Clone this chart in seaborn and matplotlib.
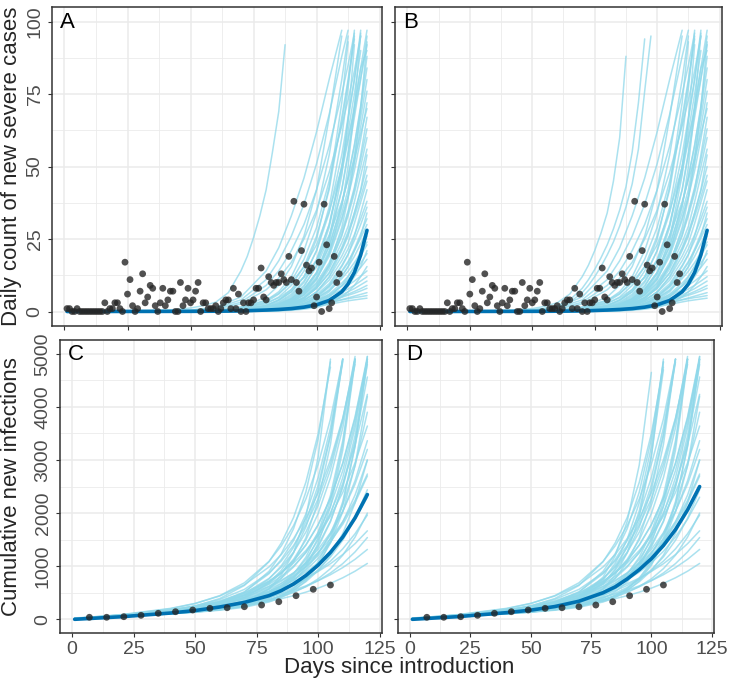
import numpy as np
import pandas as pd
import matplotlib
matplotlib.use("Agg")
import matplotlib.pyplot as plt
import seaborn as sns
from matplotlib.ticker import MultipleLocator

nan = np.nan

# ---------------- observed data ----------------
# daily count of new severe cases (panels A and B)
obs_days = list(range(1, 110))
obs_daily = [1, 1, 0, 0, 1, 0, 0, 0, 0, 0,
             0, 0, 0, 0, 0, 3, 0, 1, 1, 3,
             3, 1, 0, 17, 6, 11, 2, 0, 1, 7,
             13, 3, 5, 9, 8, 2, 0, 3, 8, 2,
             4, 7, 7, 0, 0, 10, 2, 4, 8, 3,
             4, 7, 10, 0, 3, 3, 1, 1, 1, 2,
             0, 1, 3, 4, 4, 1, 8, 1, 6, 0,
             3, 0, 3, 3, 4, 8, 8, 15, 5, 4,
             12, 10, 9, 10, 10, 13, 11, 10, 19, 11,
             38, 10, 7, 21, 37, 16, 14, 15, 2, 5,
             17, 0, 37, 23, 1, 3, 19, 10, 13]

# weekly cumulative new infections (panels C and D)
cum_days = [7, 14, 21, 28, 35, 42, 49, 56, 63, 70, 77, 84, 91, 98, 105]
cum_obs = [38, 38, 49, 75, 113, 143, 175, 207, 218, 237, 269, 331, 444, 565, 646]

# ---------------- simulated trajectories, top row ----------------
top_days = [1, 50, 60, 70, 80, 85, 90, 95, 100, 105, 110, 112.5, 115, 117.5, 120]

top_common = [
    [0, 0.1, 0.4, 1.4, 5, 9, 15.5, 26, 42, 67, 95, nan, nan, nan, nan],
    [0, 0.1, 0.3, 1.1, 3.8, 6.8, 12, 21, 34, 54, 80, 95, nan, nan, nan],
    [0, 0.05, 0.2, 0.8, 2.7, 5, 9, 15.5, 26, 42, 67, 80, 95, nan, nan],
    [0, 0.03, 0.15, 0.6, 2.2, 4, 6.8, 12, 21, 34, 54, 67, 80, 95, nan],
    [0, 0.02, 0.1, 0.4, 1.4, 2.7, 5, 9, 15.5, 26, 42, 54, 67, 80, 95],
    [0, 0, 0.05, 0.2, 0.8, 1.6, 3.0, 5.8, 11, 20, 36, 50, 70, 96, nan],
    [0, 0, 0.03, 0.15, 0.6, 1.2, 2.3, 4.4, 8.5, 16, 29, 39, 52, 70, 93],
    [0, 0.03, 0.15, 0.6, 2.0, 3.8, 6.8, 12, 21, 36, 60, 77, 97, nan, nan],
    [0, 0.02, 0.08, 0.35, 1.2, 2.3, 4.2, 7.6, 13.5, 24, 42, 55, 70, 84, 90],
    [0, 0, 0.04, 0.2, 0.9, 1.8, 3.5, 7, 13, 25, 47, 66, 92, nan, nan],
    [0, 0.02, 0.1, 0.45, 1.6, 3, 5.5, 10, 17.5, 30, 50, 62, 75, 90, nan],
    [0, 0.5, 1.5, 5, 14, 22, 33, 46, 62, 80, 97, nan, nan, nan, nan],
    [0, 0.4, 1.2, 4, 11, 17.5, 26, 37, 51, 68, 88, 97, nan, nan, nan],
    [0, 0.3, 1.0, 3.2, 9, 14, 21, 30, 42, 57, 75, 85, 96, nan, nan],
    [0, 0.25, 0.8, 2.6, 7.5, 11.5, 17, 25, 35, 48, 64, 73, 83, 95, nan],
    [0, 0, 0.1, 0.5, 2, 4, 7.5, 14, 25, 43, 72, 93, nan, nan, nan],
    [0, 0, 0.05, 0.3, 1.2, 2.4, 4.5, 8.5, 16, 29, 50, 66, 80, 97, nan],
    [0, 0.02, 0.1, 0.5, 1.8, 3.3, 6, 10.5, 18, 30, 48, 59, 71, 84, 97],
    [0, 0.05, 0.25, 1.0, 3.3, 6, 10.5, 18, 29, 45, 65, 79, 94, nan, nan],
    [0, 0.02, 0.08, 0.3, 1.1, 2.2, 3.8, 6.8, 12, 21, 34, 42, 54, 67, 80],
    [0, 0.02, 0.05, 0.2, 0.8, 1.4, 2.7, 5, 9, 15.5, 26, 34, 42, 54, 67],
    [0, 0.01, 0.04, 0.15, 0.6, 1.1, 2.2, 3.8, 6.8, 12, 21, 26, 34, 42, 54],
    [0, 0.01, 0.03, 0.1, 0.4, 0.8, 1.4, 2.7, 5, 9, 15.5, 19.5, 26, 34, 42],
    [0, 0, 0.02, 0.08, 0.3, 0.6, 1.1, 2.2, 3.8, 6.8, 12, 15.5, 21, 26, 34],
    [0, 0, 0.01, 0.05, 0.2, 0.4, 0.8, 1.4, 2.7, 5, 9, 12, 15.5, 21, 26],
    [0, 0, 0.01, 0.04, 0.15, 0.3, 0.6, 1.1, 2.2, 3.8, 6.8, 9, 12, 15.5, 21],
    [0, 0, 0, 0.03, 0.1, 0.2, 0.4, 0.8, 1.4, 2.7, 5, 6.8, 9, 12, 15.5],
    [0, 0, 0.05, 0.2, 0.4, 0.55, 0.8, 1.2, 1.8, 2.5, 3.3, 3.7, 4.0, 4.3, 4.6],
    [0, 0, 0.05, 0.2, 0.5, 0.7, 1.0, 1.5, 2.2, 3.0, 4.1, 4.7, 5.3, 5.9, 6.5],
    [0, 0, 0.05, 0.2, 0.5, 0.8, 1.2, 1.8, 2.6, 3.7, 5.2, 6.0, 6.9, 7.9, 9],
    [0, 0, 0.05, 0.2, 0.5, 0.8, 1.3, 2.0, 3.0, 4.5, 6.5, 7.8, 9.0, 10.5, 12],
    [0, 0, 0.05, 0.2, 0.5, 0.9, 1.5, 2.4, 3.8, 5.8, 8.8, 10.7, 12.8, 15.2, 18],
    [0, 0, 0.05, 0.2, 0.6, 1.0, 1.7, 2.8, 4.5, 7.2, 11.3, 13.9, 16.9, 20.2, 24],
    [0, 0, 0.05, 0.25, 0.7, 1.2, 2.0, 3.3, 5.4, 8.8, 14, 17.3, 21, 25.3, 30],
    [0, 0, 0.06, 0.3, 0.8, 1.4, 2.4, 4.0, 6.6, 10.8, 17.5, 21.6, 26.5, 32, 38],
    [0, 0, 0.07, 0.3, 0.9, 1.6, 2.8, 4.7, 8.0, 13.2, 21.5, 26.7, 32.7, 39.5, 47],
    [0, 0, 0.08, 0.35, 1.0, 1.8, 3.2, 5.6, 9.6, 16, 26.5, 33, 40.8, 50, 60],
    [0, 0.02, 0.1, 0.4, 1.2, 2.1, 3.7, 6.5, 11.3, 19, 31.5, 39.5, 48.6, 59.5, 72],
    [0, 0.02, 0.1, 0.45, 1.4, 2.4, 4.3, 7.6, 13.2, 22.5, 37, 46.5, 57.5, 71, 88],
    [0, 0, 0.06, 0.24, 0.48, 0.66, 0.96, 1.43, 2.1, 3.0, 4.0, 4.4, 4.8, 5.1, 5.5],
    [0, 0, 0.06, 0.25, 0.55, 0.8, 1.15, 1.7, 2.5, 3.5, 4.9, 5.6, 6.3, 7.1, 8],
    [0, 0, 0.05, 0.2, 0.45, 0.7, 1.1, 1.75, 2.6, 3.9, 5.7, 6.8, 7.9, 9.2, 10.5],
    [0, 0, 0.05, 0.2, 0.55, 0.9, 1.5, 2.3, 3.5, 5.3, 7.6, 9.1, 10.5, 12.2, 14],
    [0, 0, 0.03, 0.12, 0.33, 0.6, 1.06, 1.86, 3.2, 5.3, 8.8, 11, 13.6, 16.7, 20],
    [0, 0, 0.02, 0.09, 0.32, 0.63, 1.1, 1.95, 3.45, 6.0, 9.8, 12.1, 15.5, 19.3, 23],
    [0, 0, 0.04, 0.16, 0.47, 0.84, 1.5, 2.6, 4.5, 7.5, 12.4, 15.4, 19, 23.3, 28],
    [0, 0, 0.03, 0.12, 0.44, 0.88, 1.5, 2.7, 4.8, 8.4, 13.6, 16.8, 21.6, 26.8, 32],
    [0, 0, 0.05, 0.2, 0.6, 1.1, 1.9, 3.35, 5.8, 9.6, 15.9, 19.8, 24.5, 30, 36],
    [0, 0.01, 0.045, 0.17, 0.62, 1.24, 2.1, 3.8, 6.75, 11.8, 19.1, 23.6, 30.4, 37.7, 45],
    [0, 0, 0.065, 0.29, 0.84, 1.5, 2.65, 4.65, 8, 13.4, 22.1, 27.5, 34, 41.7, 50],
    [0, 0.014, 0.056, 0.21, 0.77, 1.54, 2.66, 4.76, 8.4, 14.7, 23.8, 29.4, 37.8, 46.9, 56],
    [0, 0, 0.08, 0.37, 1.05, 1.9, 3.3, 5.9, 10, 16.8, 27.8, 34.7, 42.8, 52.5, 63],
    [0, 0.05, 0.28, 1.2, 2.9, 4.7, 7.6, 11.7, 17.5, 26.3, 37.8, 45.5, 52.5, 61.3, 70],
    [0, 0.02, 0.076, 0.29, 1.05, 2.1, 3.6, 6.5, 11.4, 20, 32.3, 39.9, 51.3, 63.7, 76],
    [0, 0, 0.11, 0.49, 1.4, 2.5, 4.45, 7.8, 13.4, 22.4, 37.1, 46.2, 57.1, 70, 84],
    [0, 0.06, 0.37, 1.56, 3.9, 6.2, 9.9, 15.4, 23, 34.5, 49.7, 59.8, 69, 80.5, 92],
]

# the steep early trajectories, on a finer day grid
early_days = [1, 40, 50, 55, 60, 65, 70, 72.5, 75, 77.5, 80, 82.5, 85, 87.5,
              90, 92.5, 95, 97.5]
early_A = [
    [0, 0.4, 1.2, 2.0, 3.2, 6.5, 14, 19, 25.5, 33, 42, 55, 69, 92,
     nan, nan, nan, nan],
]
early_B = [
    [0, 0.3, 1.0, 1.8, 3, 6, 12, 16, 21, 27, 34, 45, 60, 88,
     nan, nan, nan, nan],
    [0, 0.2, 0.6, 1.1, 2, 4, 8, 11, 14.5, 18.5, 23, 28.5, 35, 43,
     55, 72, 94, nan],
    [0, 0.15, 0.5, 0.9, 1.6, 3.2, 6.5, 9, 12, 15.5, 19.5, 24, 29.5, 36,
     44, 56, 76, 95],
]
top_mean = [0, 0.05, 0.1, 0.2, 0.5, 0.7, 1.0, 1.5, 2.3, 3.8, 6.8, 9.5, 13.5, 19.5, 28]

# ---------------- simulated trajectories, bottom row ----------------
bot_days = [1, 20, 40, 50, 60, 70, 80, 85, 90, 95, 100, 105, 110, 115, 120]

bot_common = [
    [16, 58, 116, 154, 201, 262, 340, 389, 445, 511, 587, 677, 782, 906, 1052],
    [20, 69, 139, 185, 242, 317, 416, 476, 547, 630, 727, 840, 974, 1130, 1316],
    [8, 54, 115, 156, 207, 277, 375, 439, 517, 613, 729, 872, 1049, 1269, 1540],
    [25, 80, 160, 215, 285, 378, 502, 579, 670, 776, 901, 1047, 1220, 1424, 1666],
    [11, 63, 134, 183, 246, 333, 457, 539, 638, 762, 912, 1096, 1327, 1611, 1964],
    [12, 72, 154, 211, 284, 385, 530, 626, 743, 888, 1064, 1280, 1551, 1886, 2300],
    [5, 49, 107, 147, 201, 281, 404, 491, 602, 747, 933, 1174, 1489, 1902, 2440],
    [15, 82, 177, 243, 329, 448, 620, 735, 874, 1046, 1257, 1516, 1839, 2240, 2736],
    [6, 61, 133, 183, 250, 348, 500, 606, 743, 921, 1149, 1445, 1833, 2340, 3000],
    [6, 57, 126, 176, 246, 352, 520, 640, 793, 993, 1252, 1589, 2031, 2609, 3364],
    [19, 77, 172, 246, 348, 497, 721, 874, 1061, 1295, 1584, 1941, 2389, 2947, 3640],
    [4, 55, 120, 163, 223, 315, 467, 583, 736, 947, 1233, 1619, 2154, 2891, 3900],
    [8, 72, 160, 223, 312, 445, 657, 807, 1001, 1253, 1579, 2002, 2558, 3286, 4236],
    [4, 50, 112, 156, 219, 321, 495, 630, 809, 1056, 1394, 1852, 2487, 3362, 4564],
    [9, 69, 157, 223, 320, 469, 711, 884, 1108, 1402, 1782, 2277, 2929, 3784, 4900],
    [11, 75, 175, 254, 374, 563, 874, 1098, 1390, 1773, 2271, 2920, 3776, 4900, nan],
    [6, 60, 135, 193, 279, 423, 674, 869, 1131, 1495, 1991, 2667, 3605, 4900, nan],
    [14, 83, 199, 296, 446, 687, 1090, 1382, 1764, 2266, 2919, 3773, 4900, nan, nan],
    [6, 63, 149, 219, 329, 519, 858, 1125, 1483, 1983, 2669, 3602, 4900, nan, nan],
    [3, 58, 135, 198, 307, 507, 903, 1234, 1707, 2398, 3398, 4850, nan, nan, nan],
    [9, 63, 146, 210, 305, 453, 696, 871, 1098, 1395, 1780, 2283, 2946, 3814, 4950],
    [3, 55, 124, 176, 259, 405, 688, 921, 1254, 1737, 2435, 3447, 4900, nan, nan],
    [2, 53, 117, 164, 231, 340, 528, 672, 864, 1130, 1492, 1985, 2667, 3608, 4900],
    [3, 51, 108, 143, 193, 275, 433, 571, 775, 1077, 1540, 2229, 3286, 4900, nan],
    [3, 50, 105, 137, 178, 240, 350, 444, 580, 779, 1083, 1531, 2218, 3264, 4850],
    [2, 48, 103, 139, 196, 308, 574, 833, 1253, 1938, 3061, 4900, nan, nan, nan],
    [3, 54, 116, 158, 222, 334, 568, 770, 1078, 1534, 2230, 3291, 4900, nan, nan],
    [7, 65, 151, 218, 322, 487, 769, 981, 1265, 1641, 2147, 2821, 3729, 4950, nan],
    [2, 54, 117, 158, 217, 311, 474, 600, 774, 1021, 1361, 1837, 2511, 3460, 4800],
    [3, 58, 134, 194, 288, 453, 758, 1008, 1355, 1839, 2524, 3487, 4850, nan, nan],
    [6, 62, 138, 194, 276, 404, 617, 773, 984, 1264, 1635, 2134, 2800, 3697, 4900],
    [2, 52, 112, 150, 207, 301, 480, 630, 848, 1170, 1638, 2333, 3365, 4900, nan],
    [17, 89, 206, 300, 438, 649, 985, 1218, 1520, 1898, 2380, 3001, 3790, 4800, nan],
    [5, 68, 166, 251, 391, 637, 1084, 1437, 1917, 2581, 3495, 4750, nan, nan, nan],
    [10, 69, 153, 213, 294, 413, 592, 717, 872, 1070, 1317, 1631, 2035, 2547, 3200],
    [4, 54, 114, 150, 196, 260, 354, 419, 506, 617, 762, 954, 1208, 1548, 2000],
    [3, 52, 110, 145, 190, 257, 364, 445, 554, 708, 917, 1207, 1617, 2192, 3000],
    [14, 67, 146, 206, 285, 398, 566, 679, 817, 990, 1201, 1462, 1789, 2196, 2700],
    [2, 50, 107, 139, 182, 246, 359, 449, 579, 765, 1038, 1436, 2026, 2901, 4200],
    [2, 50, 105, 138, 182, 254, 396, 518, 704, 991, 1432, 2119, 3186, 4850, nan],
    [2, 50, 104, 133, 171, 226, 326, 412, 537, 726, 1017, 1466, 2168, 3255, 4950],
]
bot_extra_D = [
    [2, 50, 111, 154, 229, 395, 794, 1193, 1844, 2909, 4650, nan, nan, nan, nan],
    [2, 51, 112, 156, 227, 366, 666, 944, 1374, 2044, 3081, 4700, nan, nan, nan],
    [2, 51, 118, 168, 250, 409, 746, 1052, 1505, 2197, 3251, 4850, nan, nan, nan],
]
bot_mean_C = [0, 48, 118, 165, 232, 318, 445, 540, 665, 825, 1020, 1260, 1550, 1910, 2350]
bot_mean_D = [0, 50, 125, 172, 240, 340, 500, 610, 760, 935, 1140, 1390, 1690, 2060, 2500]

LIGHT = "#8fd8ea"
DARK = "#0072B2"
POINT = "#262626"


def to_long(groups):
    recs = []
    sim = 0
    for days, rows in groups:
        for row in rows:
            for d, v in zip(days, row):
                if not np.isnan(v):
                    recs.append((sim, d, v))
            sim += 1
    return pd.DataFrame(recs, columns=["sim", "day", "value"])


def draw_panel(ax, groups, mean_days, mean_vals, px, py):
    fan = to_long(groups)
    sns.lineplot(data=fan, x="day", y="value", units="sim", estimator=None,
                 color=LIGHT, lw=1.1, alpha=0.75, legend=False, ax=ax)
    sns.lineplot(x=mean_days, y=mean_vals, estimator=None, color=DARK, lw=2.6, ax=ax)
    sns.scatterplot(x=px, y=py, color=POINT, alpha=0.8, s=24, edgecolor="none",
                    ax=ax, zorder=5)


def style_axes(ax, ylim, ymajor, yminor, label, show_x, show_y):
    ax.set_xlim(-4.95, 125.95)
    ax.set_ylim(*ylim)
    ax.xaxis.set_major_locator(MultipleLocator(25))
    ax.xaxis.set_minor_locator(MultipleLocator(12.5))
    ax.yaxis.set_major_locator(MultipleLocator(ymajor))
    ax.yaxis.set_minor_locator(MultipleLocator(yminor))
    ax.grid(which="major", color="#EBEBEB", lw=1.1)
    ax.grid(which="minor", color="#EBEBEB", lw=0.6)
    ax.set_axisbelow(True)
    for sp in ax.spines.values():
        sp.set_color("#333333")
        sp.set_linewidth(1.1)
        sp.set_visible(True)
    ax.tick_params(which="major", length=3, width=0.8, color="#333333",
                   labelsize=14, labelcolor="#4D4D4D", pad=3,
                   bottom=True, left=True)
    ax.tick_params(which="minor", length=0)
    ax.tick_params(axis="y", labelrotation=90, labelleft=show_y)
    ax.tick_params(axis="x", labelbottom=show_x)
    plt.setp(ax.get_yticklabels(), va="center")
    ax.set_xlabel("")
    ax.set_ylabel("")
    ax.text(0.025, 0.985, label, transform=ax.transAxes, ha="left", va="top",
            fontsize=16, color="black")


sns.set_style("whitegrid")
plt.rcParams["font.family"] = ["Liberation Sans", "DejaVu Sans"]

W, H = 730, 680
fig = plt.figure(figsize=(W / 100, H / 100), dpi=100)


def box(l, t, r, b):
    return [l / W, 1 - b / H, (r - l) / W, (b - t) / H]


axA = fig.add_axes(box(52, 7, 382, 326))
axB = fig.add_axes(box(395, 7, 722, 326))
axC = fig.add_axes(box(60, 340, 382, 633))
axD = fig.add_axes(box(398, 340, 714, 633))

draw_panel(axA, [(top_days, top_common), (early_days, early_A)],
           top_days, top_mean, obs_days, obs_daily)
draw_panel(axB, [(top_days, top_common), (early_days, early_B)],
           top_days, top_mean, obs_days, obs_daily)
draw_panel(axC, [(bot_days, bot_common)], bot_days, bot_mean_C, cum_days, cum_obs)
draw_panel(axD, [(bot_days, bot_common + bot_extra_D)], bot_days, bot_mean_D,
           cum_days, cum_obs)

style_axes(axA, (-5, 105), 25, 12.5, "A", False, True)
style_axes(axB, (-5, 105), 25, 12.5, "B", False, False)
style_axes(axC, (-258, 5260), 1000, 500, "C", True, True)
style_axes(axD, (-258, 5260), 1000, 500, "D", True, False)

fig.text(12 / W, 1 - 166 / H, "Daily count of new severe cases", rotation=90,
         ha="center", va="center", fontsize=16)
fig.text(12 / W, 1 - 487 / H, "Cumulative new infections", rotation=90,
         ha="center", va="center", fontsize=16)
fig.text(399 / W, 1 - 668 / H, "Days since introduction", ha="center",
         va="center", fontsize=16)

fig.savefig("out.png", dpi=100)
